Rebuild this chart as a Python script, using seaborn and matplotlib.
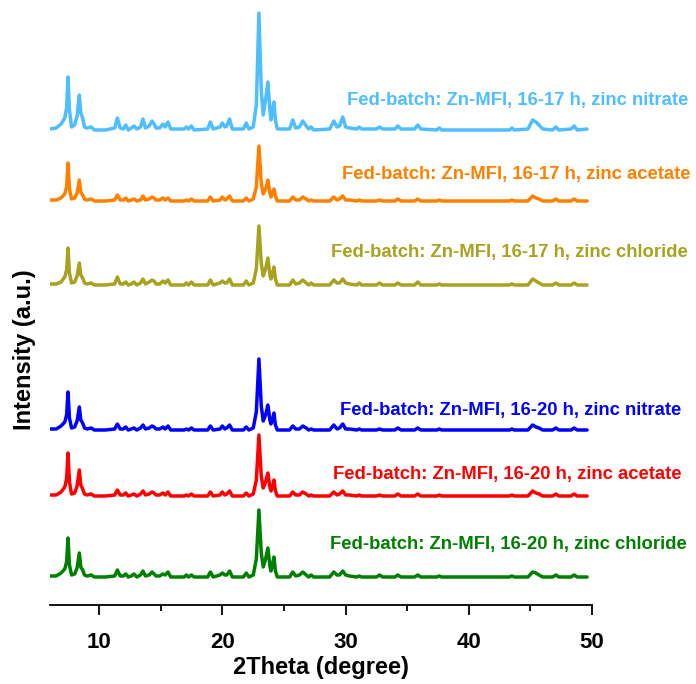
import numpy as np
import pandas as pd
import matplotlib
matplotlib.use("Agg")
import matplotlib.pyplot as plt
from matplotlib.ticker import MultipleLocator
import seaborn as sns

# ---------------- data ----------------
two_theta = [6.0, 6.5, 6.9, 7.2, 7.35, 7.46, 7.58, 7.75, 8.0, 8.2, 8.38, 8.5, 8.65, 8.8, 9.0, 9.35, 9.6,
             10.5, 11.25, 11.47, 11.7, 11.95, 12.15, 12.35, 12.6, 12.82, 13.05, 13.35, 13.55, 13.75, 14.05, 14.28, 14.45, 14.6, 14.9, 15.17, 15.35, 15.58, 15.8,
             16.9, 17.07, 17.25, 17.48, 17.7, 18.8, 19.02, 19.25, 19.8, 19.99, 20.2, 20.35, 20.58, 20.8, 21.7, 21.93, 22.15,
             22.5, 22.75, 22.96, 23.15, 23.31, 23.5, 23.69, 23.85, 23.94, 24.05, 24.18, 24.3, 24.45,
             25.45, 25.71, 25.95, 26.25, 26.52, 26.8, 27.0, 27.2, 27.4, 28.7, 29.04, 29.3, 29.5, 29.77, 30.0, 30.3,
             30.9, 31.1, 31.3, 32.5, 32.75, 33.0, 34.0, 34.23, 34.5, 35.6, 35.85, 36.1, 37.4, 37.6, 37.8,
             43.3, 43.5, 43.7, 44.8, 45.18, 45.45, 45.7, 46.0, 46.8, 47.07, 47.3, 48.3, 48.55, 48.8, 49.6]

nitrate_17h = ([1, 2, 6, 12, 22, 53, 20, 3, 5, 14, 35, 17, 12, 3, 2, 3, 0]
               + [0, 2, 12, 2, 1, 5, 0, 2, 4, 1, 3, 11, 2, 4, 9, 6, 2, 2, 6, 3, 8, 1]
               + [1, 3, 1, 4, 0, 1, 8, 1, 3, 7, 3, 4, 11, 1, 1, 7, 1]
               + [3, 25, 117, 40, 15, 30, 48, 20, 10, 18, 28, 10, 1]
               + [1, 10, 2, 3, 9, 4, 1, 3, 0, 1, 9, 3, 4, 13, 3, 2]
               + [1, 3, 1, 1, 3, 1, 1, 4, 1, 1, 5, 1, 0, 2, 0]
               + [0, 2, 0, 1, 10, 8, 5, 1, 0, 3, 0, 1, 4, 0, 1])

acetate_17h = ([1, 1, 3, 7, 14, 38, 12, 2, 3, 8, 21, 9, 6, 2, 1, 2, 0]
               + [0, 1, 6, 1, 1, 3, 0, 1, 2, 0, 1, 5, 1, 2, 4, 3, 1, 1, 3, 1, 3, 0]
               + [0, 1, 0, 2, 0, 0, 4, 0, 1, 4, 1, 2, 5, 0, 0, 3, 0]
               + [2, 14, 55, 18, 7, 12, 21, 8, 4, 8, 12, 5, 0]
               + [0, 4, 1, 1, 4, 2, 0, 1, 0, 0, 4, 1, 2, 5, 1, 1]
               + [0, 1, 0, 0, 1, 0, 0, 2, 0, 0, 2, 0, 0, 1, 0]
               + [0, 1, 0, 0, 5, 3, 2, 0, 0, 2, 0, 0, 2, 0, 0])

chloride_17h = ([1, 1, 3, 8, 15, 37, 12, 2, 3, 9, 22, 10, 7, 2, 1, 2, 0]
                + [0, 1, 8, 1, 1, 3, 0, 1, 3, 0, 2, 6, 1, 3, 5, 4, 1, 1, 4, 2, 5, 0]
                + [0, 2, 0, 3, 0, 0, 5, 0, 2, 4, 2, 2, 6, 0, 0, 4, 0]
                + [2, 16, 59, 22, 9, 16, 27, 10, 6, 11, 18, 6, 0]
                + [0, 5, 1, 2, 5, 2, 0, 2, 0, 0, 5, 2, 2, 6, 2, 1]
                + [0, 2, 0, 0, 2, 0, 0, 2, 0, 0, 3, 0, 0, 1, 0]
                + [0, 1, 0, 0, 6, 4, 2, 0, 0, 2, 0, 0, 2, 0, 0])

nitrate_20h = ([1, 1, 4, 8, 15, 38, 12, 2, 3, 9, 23, 10, 7, 2, 1, 2, 0]
               + [0, 1, 6, 1, 1, 3, 0, 1, 2, 0, 2, 5, 1, 2, 4, 3, 1, 1, 3, 1, 4, 0]
               + [0, 1, 0, 2, 0, 0, 4, 0, 1, 4, 1, 2, 5, 0, 0, 3, 0]
               + [2, 18, 71, 24, 9, 15, 25, 10, 6, 10, 17, 5, 0]
               + [0, 4, 1, 1, 4, 2, 0, 1, 0, 0, 5, 1, 2, 6, 1, 1]
               + [0, 1, 0, 0, 1, 0, 0, 2, 0, 0, 2, 0, 0, 1, 0]
               + [0, 1, 0, 0, 5, 3, 2, 0, 0, 2, 0, 0, 2, 0, 0])

acetate_20h = ([1, 1, 4, 9, 17, 43, 14, 2, 3, 10, 26, 11, 7, 2, 1, 2, 0]
               + [0, 1, 6, 1, 1, 3, 0, 1, 2, 0, 2, 5, 1, 2, 4, 3, 1, 1, 3, 1, 4, 0]
               + [0, 1, 0, 2, 0, 0, 4, 0, 1, 4, 1, 2, 5, 0, 0, 3, 0]
               + [2, 16, 61, 20, 8, 14, 23, 9, 5, 9, 16, 5, 0]
               + [0, 4, 1, 1, 4, 2, 0, 1, 0, 0, 4, 1, 2, 5, 1, 1]
               + [0, 1, 0, 0, 1, 0, 0, 2, 0, 0, 2, 0, 0, 1, 0]
               + [0, 1, 0, 0, 5, 3, 2, 0, 0, 2, 0, 0, 2, 0, 0])

chloride_20h = ([1, 1, 4, 8, 15, 39, 12, 2, 3, 9, 24, 10, 7, 2, 1, 2, 0]
                + [0, 1, 7, 1, 1, 3, 0, 1, 3, 0, 2, 6, 1, 2, 5, 3, 1, 1, 3, 2, 5, 0]
                + [0, 2, 0, 2, 0, 0, 5, 0, 2, 4, 2, 2, 6, 0, 0, 4, 0]
                + [2, 18, 67, 24, 10, 18, 29, 11, 6, 12, 20, 6, 0]
                + [0, 5, 1, 2, 5, 2, 0, 2, 0, 0, 5, 2, 2, 6, 2, 1]
                + [0, 1, 0, 0, 2, 0, 0, 2, 0, 0, 2, 0, 0, 1, 0]
                + [0, 1, 0, 0, 5, 4, 2, 0, 0, 2, 0, 0, 2, 0, 0])

labels = ["Fed-batch: Zn-MFI, 16-17 h, zinc nitrate",
          "Fed-batch: Zn-MFI, 16-17 h, zinc acetate",
          "Fed-batch: Zn-MFI, 16-17 h, zinc chloride",
          "Fed-batch: Zn-MFI, 16-20 h, zinc nitrate",
          "Fed-batch: Zn-MFI, 16-20 h, zinc acetate",
          "Fed-batch: Zn-MFI, 16-20 h, zinc chloride"]
series = [nitrate_17h, acetate_17h, chloride_17h, nitrate_20h, acetate_20h, chloride_20h]

# ---------------- layout / style ----------------
offsets = [475, 404, 320, 175, 109, 28]
colors = ["#4FBEFF", "#FF8000", "#A8A21E", "#0000FF", "#FF0000", "#008000"]
label_x = [30.08, 29.68, 28.78, 29.54, 28.97, 28.73]
label_y = [505, 430, 352, 195, 131, 61]

for s in series:
    assert len(s) == len(two_theta)

frames = []
for lab, s, off in zip(labels, series, offsets):
    frames.append(pd.DataFrame({"two_theta": two_theta,
                                "intensity": np.array(s, dtype=float) + off,
                                "sample": lab}))
df = pd.concat(frames, ignore_index=True)

sns.set_style("ticks")
plt.rcParams["font.family"] = ["Liberation Sans", "DejaVu Sans"]
plt.rcParams["font.weight"] = "bold"
for key in ["text.color", "axes.labelcolor", "axes.edgecolor", "xtick.color", "ytick.color"]:
    plt.rcParams[key] = "black"

fig = plt.figure(figsize=(6.96, 6.84), dpi=100)
ax = fig.add_axes([50 / 696, 79 / 684, 542 / 696, 595 / 684])

sns.lineplot(data=df, x="two_theta", y="intensity", hue="sample",
             palette=dict(zip(labels, colors)), legend=False,
             estimator=None, sort=False, lw=2.5, ax=ax)

ax.set_xlim(6, 50)
ax.set_ylim(0, 595)
ax.set_yticks([])
sns.despine(ax=ax, left=True)
ax.spines["bottom"].set_linewidth(1.3)
ax.spines["bottom"].set_color("black")
ax.xaxis.set_major_locator(MultipleLocator(10))
ax.xaxis.set_minor_locator(MultipleLocator(5))
ax.tick_params(axis="x", which="major", length=7.5, width=1.3, direction="out",
               labelsize=16, pad=12, color="black", labelcolor="black")
ax.tick_params(axis="x", which="minor", length=4, width=1.3, direction="out", color="black")
for t in ax.get_xticklabels():
    t.set_fontweight("bold")

ax.set_xlabel("2Theta (degree)", fontsize=17, fontweight="bold", labelpad=2, color="black")
ax.set_ylabel("")
fig.text(25 / 696, 1 - 350 / 684, "Intensity (a.u.)", rotation=90,
         ha="center", va="center", fontsize=17, fontweight="bold", color="black")

for lab, c, tx, ty in zip(labels, colors, label_x, label_y):
    ax.text(tx, ty, lab, color=c, fontsize=13.3, fontweight="bold",
            ha="left", va="center", clip_on=False)

fig.savefig("out.png", dpi=100)
